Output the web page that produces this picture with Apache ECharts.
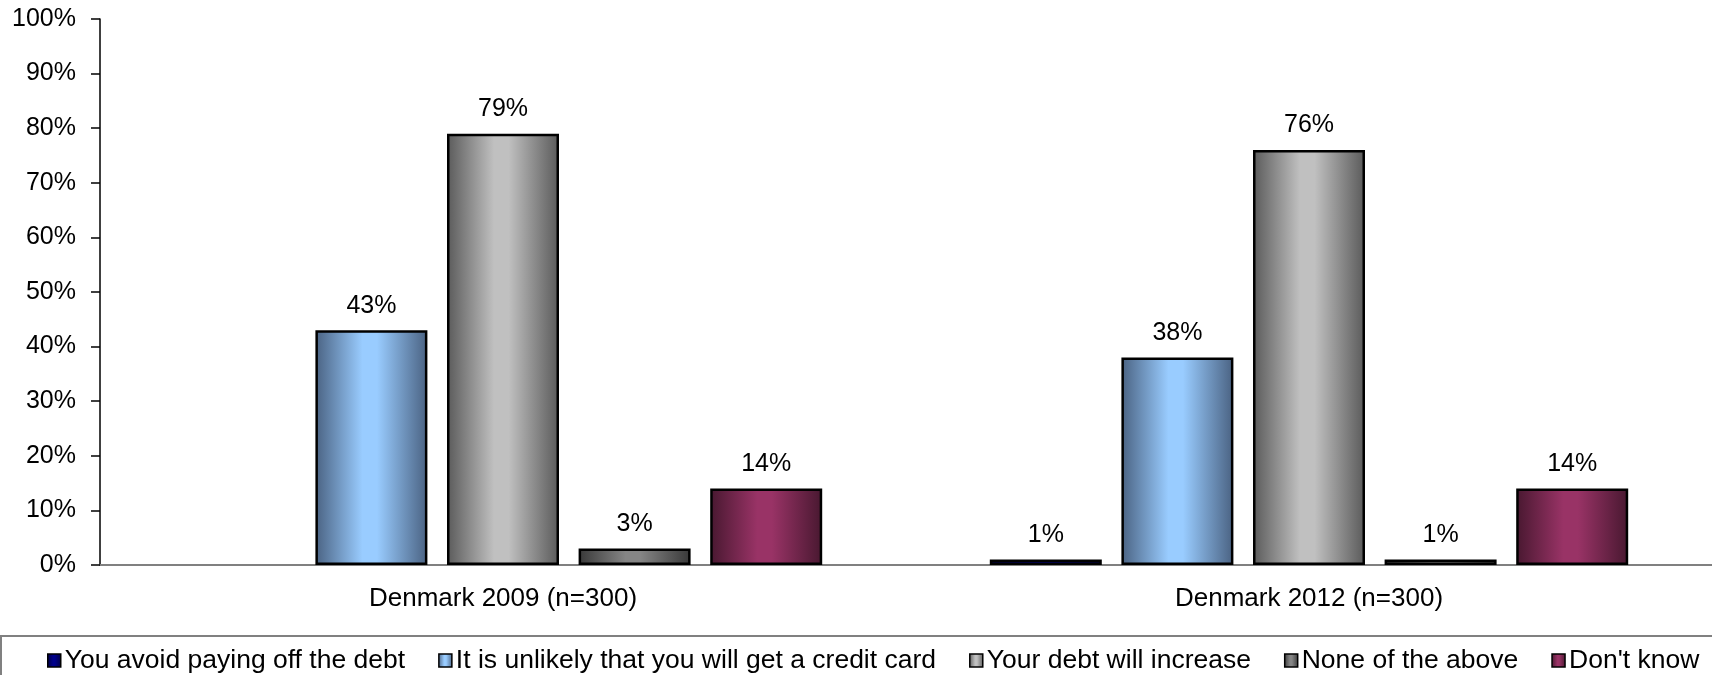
<!DOCTYPE html>
<html>
<head>
<meta charset="utf-8">
<script src="https://cdn.jsdelivr.net/npm/echarts@6/dist/echarts.min.js"></script>
<style>
  html, body { margin: 0; padding: 0; background: #fff; }
  #chart { width: 1712px; height: 675px; }
</style>
</head>
<body>
<div id="chart"></div>
<script>
// Survey groups and answers
const categories = ['Denmark 2009 (n=300)', 'Denmark 2012 (n=300)'];
const seriesNames = [
  'You avoid paying off the debt',
  'It is unlikely that you will get a credit card',
  'Your debt will increase',
  'None of the above',
  "Don't know"
];
// Percentages per answer, one value per group (null = not asked)
const avoidPaying = [null, 1];
const noCreditCard = [43, 38];
const debtIncrease = [79, 76];
const noneOfAbove = [3, 1];
const dontKnow = [14, 14];
const yTicks = [0, 10, 20, 30, 40, 50, 60, 70, 80, 90, 100];

const seriesData = [avoidPaying, noCreditCard, debtIncrease, noneOfAbove, dontKnow];

// Cylinder-like horizontal shading: dark edges, light middle
function shade(edge, mid) {
  return new echarts.graphic.LinearGradient(0, 0, 1, 0, [
    { offset: 0, color: edge },
    { offset: 0.42, color: mid },
    { offset: 0.55, color: mid },
    { offset: 1, color: edge }
  ]);
}
const fills = [
  shade('#000040', '#00008a'),
  shade('#4a6282', '#99ccff'),
  shade('#5a5a5a', '#c0c0c0'),
  shade('#383838', '#858585'),
  shade('#481830', '#993366')
];

const FONT = '"Liberation Sans", Arial, sans-serif';

const chart = echarts.init(document.getElementById('chart'), null, { renderer: 'canvas' });

chart.setOption({
  animation: false,
  backgroundColor: '#ffffff',
  textStyle: { fontFamily: FONT, color: '#000' },
  grid: { left: 100, top: 19, width: 1620, height: 546, containLabel: false },
  xAxis: {
    type: 'category',
    data: categories,
    axisLine: { lineStyle: { color: '#808080', width: 2 } },
    axisTick: { show: false },
    axisLabel: { fontSize: 26, color: '#000', fontFamily: FONT, margin: 21 }
  },
  yAxis: {
    type: 'value',
    min: yTicks[0],
    max: yTicks[yTicks.length - 1],
    interval: yTicks[1] - yTicks[0],
    splitLine: { show: false },
    axisLine: { show: true, lineStyle: { color: '#000', width: 1.5 } },
    axisTick: { show: true, length: 9, lineStyle: { color: '#000', width: 1.5 } },
    axisLabel: { formatter: '{value}%', fontSize: 25, color: '#000', fontFamily: FONT, margin: 24 }
  },
  legend: {
    data: seriesNames,
    left: 42,
    top: 642,
    icon: 'rect',
    itemWidth: 13,
    itemHeight: 13,
    itemGap: 33,
    textStyle: { fontSize: 26.5, color: '#000', fontFamily: FONT, padding: [0, 0, 0, -1] },
    itemStyle: { borderColor: '#000', borderWidth: 1.5 }
  },
  graphic: [{
    type: 'rect',
    shape: { x: 1, y: 636, width: 1740, height: 80 },
    style: { fill: 'none', stroke: '#808080', lineWidth: 2 },
    silent: true
  }],
  series: seriesNames.map((name, i) => ({
    name: name,
    type: 'bar',
    data: seriesData[i],
    barWidth: 112,
    barGap: '17.5%',
    itemStyle: { color: fills[i], borderColor: '#000', borderWidth: 2.5 },
    label: {
      show: true,
      position: 'top',
      distance: 12,
      formatter: p => (p.value == null ? '' : p.value + '%'),
      fontSize: 25,
      color: '#000',
      fontFamily: FONT
    }
  }))
});
</script>
</body>
</html>
